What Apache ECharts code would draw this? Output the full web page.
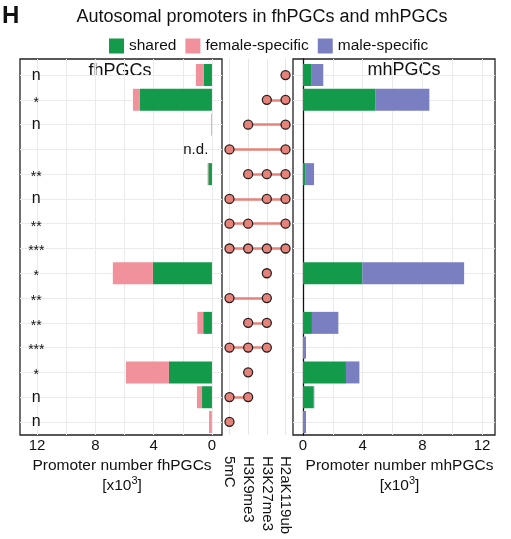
<!DOCTYPE html>
<html>
<head>
<meta charset="utf-8">
<script src="https://cdn.jsdelivr.net/npm/echarts@6/dist/echarts.min.js"></script>
<style>
  html, body { margin: 0; padding: 0; background: #fff; }
  #chart { width: 511px; height: 539px; }
</style>
</head>
<body>
<div id="chart"></div>
<script>
// histone / DNA marks (middle matrix columns)
const marks = ['5mC', 'H3K9me3', 'H3K27me3', 'H2aK119ub'];
// which marks each row combines (column indices), top to bottom
const combos = [[3], [2, 3], [1, 3], [0, 3], [1, 2, 3], [0, 2, 3], [0, 1, 3], [0, 1, 2, 3],
  [2], [0, 2], [1, 2], [0, 1, 2], [1], [0, 1], [0]];
const rows = combos.map(c => c.map(k => marks[k]).join('+'));
const signif = ['n', '*', 'n', '', '**', 'n', '**', '***', '*', '**', '**', '***', '*', 'n', 'n'];
const notDetected = [3];

// promoter numbers [x10^3]
const sharedF = [0.55, 4.94, 0.02, 0, 0.25, 0, 0, 0, 4.05, 0, 0.6, 0, 2.95, 0.68, 0.02];
const femaleSpec = [0.55, 0.48, 0.03, 0, 0.05, 0, 0, 0, 2.75, 0, 0.4, 0, 2.95, 0.35, 0.18];
const sharedM = [0.54, 4.87, 0, 0, 0.18, 0, 0, 0, 3.98, 0, 0.6, 0, 2.88, 0.72, 0];
const maleSpec = [0.82, 3.6, 0, 0, 0.56, 0, 0, 0, 6.82, 0, 1.77, 0.2, 0.9, 0.04, 0.2];

const xTicks = [0, 4, 8, 12];
const xGrid = [0, 2, 4, 6, 8, 10, 12];
const rowIdx = rows.map((r, i) => i);
const markIdx = marks.map((m, i) => i);

const GREEN = '#139a4a', PINK = '#f0919c', BLUE = '#7a7fc2';
const DOT = '#e5837a', TXT = '#111', GRIDC = '#ebebeb';

const nameRich = {
  a: { fontSize: 15.5, color: TXT, lineHeight: 20 },
  s: { fontSize: 11, color: TXT, lineHeight: 20, verticalAlign: 'top' }
};

function boxY(idx) {
  return {
    gridIndex: idx, type: 'value', inverse: true, min: -0.65, max: 14.53,
    axisLine: { show: false }, axisLabel: { show: false },
    axisTick: { show: false, customValues: rowIdx },
    splitLine: { show: true, lineStyle: { color: GRIDC, width: 1 } }
  };
}

const chart = echarts.init(document.getElementById('chart'));

const option = {
  animation: false,
  textStyle: { fontFamily: 'Liberation Sans, Arial, sans-serif' },
  legend: {
    data: ['shared', 'female-specific', 'male-specific'],
    left: 104, top: 33, itemWidth: 15, itemHeight: 15, itemGap: 9, icon: 'rect',
    textStyle: { fontSize: 15.5, color: TXT }, selectedMode: false
  },
  graphic: [
    { type: 'text', left: 2, top: 4, style: { text: 'H', font: 'bold 24px Liberation Sans', fill: '#111' } },
    { type: 'text', x: 262, y: 8, style: { text: 'Autosomal promoters in fhPGCs and mhPGCs', font: '18px Liberation Sans', fill: TXT, textAlign: 'center' } },
    { type: 'text', x: 120, y: 62, style: { text: 'fhPGCs', font: '18px Liberation Sans', fill: TXT, textAlign: 'center' } },
    { type: 'text', x: 404, y: 61, style: { text: 'mhPGCs', font: '18px Liberation Sans', fill: TXT, textAlign: 'center' } }
  ],
  grid: [
    { left: 20, top: 59, width: 202, height: 376, show: true, borderColor: '#222', borderWidth: 1.3 },
    { left: 20, top: 62.6, width: 202, height: 371.8 },
    { left: 222, top: 59, width: 71, height: 376 },
    { left: 293, top: 59, width: 202, height: 376, show: true, borderColor: '#222', borderWidth: 1.3 },
    { left: 293, top: 62.6, width: 202, height: 371.8 }
  ],
  xAxis: [
    {
      gridIndex: 0, type: 'value', inverse: true, min: -0.69, max: 13.17,
      axisLine: { show: false },
      axisTick: { show: false, customValues: xGrid },
      splitLine: { show: true, lineStyle: { color: GRIDC, width: 1 } },
      axisLabel: { customValues: xTicks, fontSize: 15, color: TXT, margin: 3 },
      name: '{a|Promoter number fhPGCs}\n{a|[x10}{s|3}{a|]}',
      nameLocation: 'middle', nameGap: 19,
      nameTextStyle: { rich: nameRich, padding: [0, 0, 0, 2] }
    },
    { gridIndex: 1, type: 'value', inverse: true, min: -0.69, max: 13.17, show: false },
    {
      gridIndex: 2, type: 'value', min: -0.4, max: 3.4,
      axisLine: { show: false },
      axisTick: { show: false, customValues: markIdx },
      splitLine: { show: true, lineStyle: { color: '#e6e6e6', width: 1 } },
      axisLabel: { customValues: markIdx, formatter: v => marks[v], rotate: -90, margin: 21, fontSize: 15, color: TXT }
    },
    {
      gridIndex: 3, type: 'value', min: -0.67, max: 12.87,
      axisLine: { show: false },
      axisTick: { show: false, customValues: xGrid },
      splitLine: { show: true, lineStyle: { color: GRIDC, width: 1 } },
      axisLabel: { customValues: xTicks, fontSize: 15, color: TXT, margin: 3 },
      name: '{a|Promoter number mhPGCs}\n{a|[x10}{s|3}{a|]}',
      nameLocation: 'middle', nameGap: 19,
      nameTextStyle: { rich: nameRich, padding: [0, 0, 0, 11] }
    },
    { gridIndex: 4, type: 'value', min: -0.67, max: 12.87, show: false }
  ],
  yAxis: [
    boxY(0),
    { gridIndex: 1, type: 'category', data: rows, inverse: true, show: false },
    { gridIndex: 2, type: 'value', inverse: true, min: -0.65, max: 14.53, show: false },
    Object.assign(boxY(3), { axisLine: { show: true, onZero: true, lineStyle: { color: TXT, width: 1.3 } } }),
    { gridIndex: 4, type: 'category', data: rows, inverse: true, show: false }
  ],
  series: [
    { type: 'bar', name: 'shared', xAxisIndex: 1, yAxisIndex: 1, stack: 'f', data: sharedF, barWidth: 22, itemStyle: { color: GREEN }, silent: true },
    { type: 'bar', name: 'female-specific', xAxisIndex: 1, yAxisIndex: 1, stack: 'f', data: femaleSpec, barWidth: 22, itemStyle: { color: PINK }, silent: true },
    { type: 'bar', name: 'shared', xAxisIndex: 4, yAxisIndex: 4, stack: 'm', data: sharedM, barWidth: 22, itemStyle: { color: GREEN }, silent: true },
    { type: 'bar', name: 'male-specific', xAxisIndex: 4, yAxisIndex: 4, stack: 'm', data: maleSpec, barWidth: 22, itemStyle: { color: BLUE }, silent: true },
    {
      type: 'scatter', xAxisIndex: 0, yAxisIndex: 0, symbolSize: 0, silent: true, z: 6,
      itemStyle: { color: TXT, opacity: 1 },
      data: signif.map((s, i) => ({
        value: [12.05, i],
        label: {
          show: s !== '', formatter: s, position: 'inside', color: '#111', textBorderWidth: 0,
          fontSize: s[0] === '*' ? 14 : 16, offset: s[0] === '*' ? [0, 3] : [0, 0]
        }
      }))
    },
    {
      type: 'scatter', xAxisIndex: 0, yAxisIndex: 0, symbolSize: 0, silent: true, z: 6,
      itemStyle: { color: TXT, opacity: 1 },
      data: notDetected.map(i => [0.25, i]),
      label: { show: true, formatter: 'n.d.', position: 'inside', align: 'right', fontSize: 15, color: '#111', textBorderWidth: 0 }
    },
    {
      type: 'lines', coordinateSystem: 'cartesian2d', xAxisIndex: 2, yAxisIndex: 2, silent: true,
      lineStyle: { color: DOT, width: 2.5, opacity: 1 },
      data: combos.map((c, i) => ({ coords: [[Math.min(...c), i], [Math.max(...c), i]] })).filter((d, i) => combos[i].length > 1)
    },
    {
      type: 'scatter', xAxisIndex: 2, yAxisIndex: 2, symbolSize: 9, silent: true, z: 5, clip: false,
      itemStyle: { color: DOT, borderColor: '#2a1f1f', borderWidth: 1.3, opacity: 1 },
      data: combos.flatMap((c, i) => c.map(k => [k, i]))
    }
  ]
};

chart.setOption(option);
</script>
</body>
</html>
